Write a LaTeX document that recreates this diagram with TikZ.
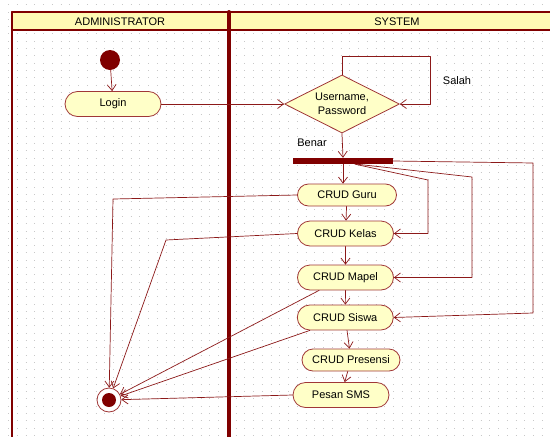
\documentclass[tikz,border=0pt]{standalone}
\usepackage{fontspec}
\setmainfont{Liberation Sans}
\usetikzlibrary{arrows.meta}
\usetikzlibrary{shapes.geometric}
\usetikzlibrary{shapes.misc}
\definecolor{lanered}{RGB}{128,0,0}
\definecolor{edgered}{RGB}{140,25,25}
\definecolor{boxred}{RGB}{160,55,55}
\definecolor{boxfill}{RGB}{255,255,200}
\definecolor{headfill}{RGB}{255,250,180}
\definecolor{dotgray}{RGB}{200,200,200}

\begin{document}
\begin{tikzpicture}[x=1pt, y=-1pt, line cap=round, line join=round,
  font=\fontsize{11}{13.5}\selectfont,
  activity/.style={rounded rectangle, draw=boxred, fill=boxfill, line width=0.8pt,
    minimum width=96pt, minimum height=25pt, inner sep=0pt},
  flow/.style={draw=edgered, line width=0.7pt, -{Straight Barb[length=6pt,width=9pt]}},
  lane/.style={draw=lanered, line width=2pt}]
\clip (0,0) rectangle (550,437);
\useasboundingbox (0,0) rectangle (550,437);
\fill [white] (0,0) rectangle (550,437);
\foreach \j in {0,...,59}
  \draw [dotgray, line width=1pt, line cap=butt, dash pattern=on 1pt off 7.75pt] (8,4.7+7.3*\j) -- (550,4.7+7.3*\j);
\draw [lane, fill=headfill] (12,12) rectangle (229,30);
\draw [lane, fill=headfill] (229,12) rectangle (560,30);
\draw [lane] (12,12) -- (12,437);
\draw [lanered, line width=4pt] (229,12) -- (229,437);
\node at (120,21.5) {ADMINISTRATOR};
\node at (397,21.5) {SYSTEM};
\node [circle, fill=lanered, minimum size=20pt, inner sep=0pt] (start) at (110,60) {};
\node [activity] (login) at (113,104) {Login};
\node [diamond, draw=boxred, fill=boxfill, line width=0.8pt, aspect=2, minimum width=115pt,
  minimum height=58pt, inner sep=0pt, align=center] (cek) at (342,104) {Username,\\Password};
\node [fill=lanered, minimum width=100pt, minimum height=6pt, inner sep=0pt] (fork) at (343,161) {};
\node [activity, minimum width=99pt, minimum height=22pt] (guru) at (347,195) {CRUD Guru};
\node [activity] (kelas) at (345.5,233.5) {CRUD Kelas};
\node [activity] (mapel) at (345.5,277.5) {CRUD Mapel};
\node [activity] (siswa) at (345.3,317.5) {CRUD Siswa};
\node [activity, minimum width=98pt, minimum height=22pt] (presensi) at (351,360) {CRUD Presensi};
\node [activity] (sms) at (341,395) {Pesan SMS};
\node [circle, draw=boxred, fill=white, line width=0.8pt, minimum size=24pt, inner sep=0pt] (final) at (109,400) {};
\fill [lanered] (final) circle (7);
\node at (457,81) {Salah};
\node at (312,143) {Benar};
\coordinate (salah) at (430,56);
\coordinate (keK) at (428,180);
\coordinate (keM) at (472,177);
\coordinate (keS1) at (533,163);
\coordinate (keS2) at (533,313);
\coordinate (dariG) at (113,199);
\coordinate (dariK) at (166,240);
\draw [flow] (start) -- (login);
\draw [flow] (login.east) -- (cek.west);
\draw [flow] (cek.north) |- (salah) |- (cek.east);
\draw [flow] (cek.south) -- (fork.north);
\draw [flow] (fork.south) -- (fork.south |- guru.north);
\draw [flow] (guru) -- (kelas);
\draw [flow] (kelas) -- (mapel);
\draw [flow] (mapel) -- (siswa);
\draw [flow] (siswa) -- (presensi);
\draw [flow] (presensi) -- (sms);
\draw [flow] ([xshift=12pt]fork.south) -- (keK) |- (kelas.east);
\draw [flow] ([xshift=14pt]fork.south) -- (keM) |- (mapel.east);
\draw [flow] (fork.east) -- (keS1) -- (keS2) -- (siswa.east);
\draw [flow] (guru.west) -- (dariG) -- (final);
\draw [flow] (kelas.west) -- (dariK) -- (final);
\draw [flow] (mapel.206) -- (final);
\draw [flow] (siswa.200) -- (final);
\draw [flow] (sms.west) -- (final);
\end{tikzpicture}
\end{document}
